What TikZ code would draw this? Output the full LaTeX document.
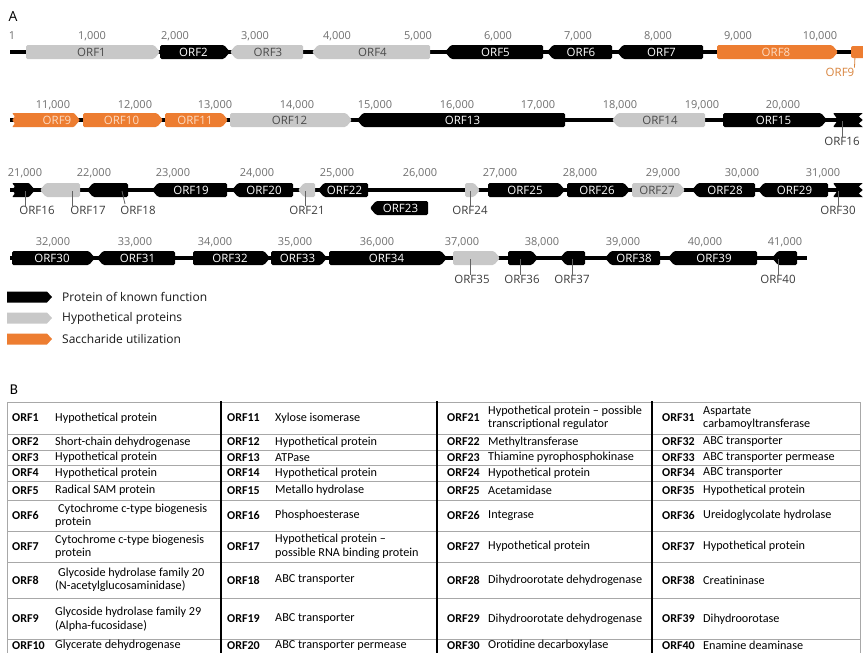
\documentclass[tikz,border=0pt]{standalone}
\usepackage{fontspec}
\setmainfont{Open Sans}
\newfontfamily\tabf{Carlito}
\definecolor{hycol}{HTML}{C8C8C8}
\definecolor{hytx}{HTML}{4A4A4A}
\definecolor{sacol}{HTML}{ED7D31}
\definecolor{satx}{HTML}{FCDCC4}
\definecolor{sclcol}{HTML}{707070}
\definecolor{subcol}{HTML}{3C3C3C}
\definecolor{orlab}{HTML}{D9853F}
\definecolor{tabline}{HTML}{A8A8A8}
\newcommand\genef{\fontsize{11.5}{13}\selectfont}
\newcommand\gR[6]{%
  \fill[#4,rounded corners=1.5pt] (#1,#3-7) -- (#2-6,#3-7) -- (#2,#3) -- (#2-6,#3+7) -- (#1,#3+7) -- cycle;
  \node[#4t] (#5) at ({(#1+#2-3)/2},#3) {#6};}
\newcommand\gL[6]{%
  \fill[#4,rounded corners=1.5pt] (#1,#3) -- (#1+6,#3-7) -- (#2,#3-7) -- (#2,#3+7) -- (#1+6,#3+7) -- cycle;
  \node[#4t] (#5) at ({(#1+#2+3)/2},#3) {#6};}
\newcommand\sR[4]{%
  \fill[#4,rounded corners=1.5pt] (#1,#3-7) -- (#2-6,#3-7) -- (#2,#3) -- (#2-6,#3+7) -- (#1,#3+7) -- cycle;}
\newcommand\sL[4]{%
  \fill[#4,rounded corners=1.5pt] (#1,#3) -- (#1+6,#3-7) -- (#2,#3-7) -- (#2,#3+7) -- (#1+6,#3+7) -- cycle;}
\newcommand\trow[9]{%
  \node[tl] (t#2) at (12,#1) {#2}; \node[td] (d#2) at (55,#1) {#3};
  \node[tl] (t#4) at (227,#1) {#4}; \node[td] (d#4) at (275,#1) {#5};
  \node[tl] (t#6) at (447,#1) {#6}; \node[td] (d#6) at (488,#1) {#7};
  \node[tl] (t#8) at (662,#1) {#8}; \node[td] (d#8) at (703,#1) {#9};}
\begin{document}
\begin{tikzpicture}[x=1pt,y=-1pt,
  kn/.style={fill=black}, hy/.style={fill=hycol}, sa/.style={fill=sacol},
  knt/.style={text=white,font=\genef,inner sep=0pt},
  hyt/.style={text=hytx,font=\genef,inner sep=0pt},
  sat/.style={text=satx,font=\genef,inner sep=0pt},
  bb/.style={line width=4.5pt},
  scl/.style={text=sclcol,font=\fontsize{11}{13}\selectfont,inner sep=0pt},
  sub/.style={text=subcol,font=\genef,inner sep=0pt},
  lead/.style={draw=subcol!80,line width=0.8pt},
  leg/.style={text=black!90,font=\fontsize{12}{14}\selectfont,inner sep=0pt,anchor=west},
  tl/.style={font=\tabf\bfseries\fontsize{12}{13.5}\selectfont,anchor=west,inner sep=0pt},
  td/.style={font=\tabf\fontsize{12.2}{13.5}\selectfont,anchor=west,align=left,inner sep=0pt},
  hl/.style={draw=tabline,line width=1pt},
  vl/.style={draw=black,line width=2.6pt}]
\useasboundingbox (0,0) rectangle (863,653);
\clip (0,0) rectangle (863,653);
\fill[white] (0,0) rectangle (863,653);

\node[font=\fontsize{14}{16}\selectfont,inner sep=0pt] (lA) at (13,16) {A};

% ---------- row 1 ----------
\draw[bb] (10,52) -- (863,52);
\foreach \x/\t [count=\i] in {12/1,92/{1,000},175/{2,000},255/{3,000},337/{4,000},418/{5,000},498/{6,000},578/{7,000},658/{8,000},738/{9,000},820/{10,000}}
  \node[scl] (ra\i) at (\x,36) {\t};
\gR{26}{160}{52}{hy}{g1}{ORF1}
\gR{160}{230}{52}{kn}{g2}{ORF2}
\gL{230}{303}{52}{hy}{g3}{ORF3}
\gL{312}{430}{52}{hy}{g4}{ORF4}
\gL{445}{543}{52}{kn}{g5}{ORF5}
\gL{547}{612}{52}{kn}{g6}{ORF6}
\gL{617}{703}{52}{kn}{g7}{ORF7}
\gR{717}{838}{52}{sa}{g8}{ORF8}
\fill[sa,rounded corners=2pt] (851,46) rectangle (866,58);
\coordinate (c9a) at (855,56);
\node[text=orlab,font=\genef,inner sep=0pt] (l9a) at (840,72) {ORF9};
\draw[draw=orlab,line width=0.8pt] (c9a) -- (l9a.north east);

% ---------- row 2 ----------
\draw[bb] (10,120) -- (863,120);
\foreach \x/\t [count=\i] in {53/{11,000},135/{12,000},215/{13,000},297/{14,000},375/{15,000},457/{16,000},538/{17,000},620/{18,000},702/{19,000},783/{20,000}}
  \node[scl] (rb\i) at (\x,105) {\t};
\fill[sa,rounded corners=1pt] (12,113) -- (74,113) -- (80,120) -- (74,127) -- (12,127) -- (15,123.5) -- (12,120) -- (15,116.5) -- cycle;
\node[sat] (g9) at (57,120) {ORF9};
\gR{83}{163}{120}{sa}{g10}{ORF10}
\gR{165}{228}{120}{sa}{g11}{ORF11}
\gR{230}{352}{120}{hy}{g12}{ORF12}
\gL{357}{565}{120}{kn}{g13}{ORF13}
\gL{612}{705}{120}{hy}{g14}{ORF14}
\gR{723}{827}{120}{kn}{g15}{ORF15}
\fill[kn,rounded corners=1pt] (833,113) -- (866,113) -- (866,127) -- (833,127) -- (838,120) -- cycle;
\fill[white] (863,113) -- (859,116.5) -- (863,120) -- (859,123.5) -- (863,127) -- (866,127) -- (866,113) -- cycle;
\coordinate (c16a) at (842,121);
\node[sub] (l16a) at (842,141) {ORF16};
\draw[lead] (c16a) -- (l16a.north);

% ---------- row 3 ----------
\draw[bb] (10,190) -- (863,190);
\foreach \x/\t [count=\i] in {25/{21,000},94/{22,000},173/{23,000},257/{24,000},337/{25,000},420/{26,000},500/{27,000},580/{28,000},663/{29,000},742/{30,000},823/{31,000}}
  \node[scl] (rc\i) at (\x,173) {\t};
\fill[kn,rounded corners=1pt] (12,183) -- (29,183) -- (35,190) -- (29,197) -- (12,197) -- (15,193.5) -- (12,190) -- (15,186.5) -- cycle;
\sL{40}{80}{190}{hy}
\sL{87}{128}{190}{kn}
\gL{152}{227}{190}{kn}{g19}{ORF19}
\gL{232}{293}{190}{kn}{g20}{ORF20}
\sL{298}{315}{190}{hy}
\gL{318}{368}{190}{kn}{g22}{ORF22}
\gL{370}{428}{208}{kn}{g23}{ORF23}
\sR{465}{480}{190}{hy}
\gR{488}{565}{190}{kn}{g25}{ORF25}
\gR{567}{630}{190}{kn}{g26}{ORF26}
\gR{632}{685}{190}{hy}{g27}{ORF27}
\gL{692}{755}{190}{kn}{g28}{ORF28}
\gL{758}{828}{190}{kn}{g29}{ORF29}
\fill[kn,rounded corners=1pt] (833,183) -- (866,183) -- (866,197) -- (833,197) -- (838,190) -- cycle;
\fill[white] (863,183) -- (859,186.5) -- (863,190) -- (859,193.5) -- (863,197) -- (866,197) -- (866,183) -- cycle;
\coordinate (c16b) at (25,191);
\coordinate (c17) at (72,191);
\coordinate (c18) at (122,191);
\coordinate (c21) at (305,191);
\coordinate (c24) at (470,191);
\coordinate (c30a) at (838,191);
\node[sub] (l16b) at (37,210) {ORF16};
\node[sub] (l17) at (88,210) {ORF17};
\node[sub] (l18) at (138,210) {ORF18};
\node[sub] (l21) at (307,210) {ORF21};
\node[sub] (l24) at (470,210) {ORF24};
\node[sub] (l30a) at (838,210) {ORF30};
\draw[lead] (c16b) -- (l16b.north -| c16b);
\draw[lead] (c17) -- (l17.north -| c17);
\draw[lead] (c18) -- (125,204);
\draw[lead] (c21) -- (l21.north -| c21);
\draw[lead] (c24) -- (l24.north);
\draw[lead] (c30a) -- (l30a.north -| c30a);

% ---------- row 4 ----------
\draw[bb] (10,258) -- (807,258);
\foreach \x/\t [count=\i] in {53/{32,000},135/{33,000},215/{34,000},295/{35,000},377/{36,000},462/{37,000},542/{38,000},623/{39,000},705/{40,000},785/{41,000}}
  \node[scl] (rd\i) at (\x,242) {\t};
\gR{12}{95}{258}{kn}{g30}{ORF30}
\gL{97}{175}{258}{kn}{g31}{ORF31}
\gR{193}{270}{258}{kn}{g32}{ORF32}
\gR{271}{327}{258}{kn}{g33}{ORF33}
\gR{329}{447}{258}{kn}{g34}{ORF34}
\sR{453}{500}{258}{hy}
\sR{508}{538}{258}{kn}
\sL{560}{585}{258}{kn}
\gL{605}{660}{258}{kn}{g38}{ORF38}
\gL{668}{757}{258}{kn}{g39}{ORF39}
\sL{772}{797}{258}{kn}
\coordinate (c35) at (470,259);
\coordinate (c36) at (520,259);
\coordinate (c37) at (572,259);
\coordinate (c40) at (778,259);
\node[sub] (l35) at (472,279) {ORF35};
\node[sub] (l36) at (522,279) {ORF36};
\node[sub] (l37) at (572,279) {ORF37};
\node[sub] (l40) at (778,279) {ORF40};
\draw[lead] (c35) -- (l35.north -| c35);
\draw[lead] (c36) -- (l36.north -| c36);
\draw[lead] (c37) -- (l37.north);
\draw[lead] (c40) -- (l40.north);

% ---------- legend ----------
\fill[kn] (7,291.5) -- (47,291.5) -- (52,297) -- (47,302.5) -- (7,302.5) -- cycle;
\fill[hy] (7,312.5) -- (47,312.5) -- (52,318) -- (47,323.5) -- (7,323.5) -- cycle;
\fill[sa] (7,333.5) -- (47,333.5) -- (52,339) -- (47,344.5) -- (7,344.5) -- cycle;
\node[leg] (lg1) at (62,297) {Protein of known function};
\node[leg] (lg2) at (62,318) {Hypothetical proteins};
\node[leg] (lg3) at (62,339) {Saccharide utilization};

% ---------- table ----------
\node[font=\tabf\fontsize{15}{17}\selectfont,inner sep=0pt] (lB) at (14,390) {B};
\foreach \y in {402,434,450,465,481,500,531,562,598,639}
  \draw[hl] (7,\y) -- (860,\y);
\draw[hl] (7,402) -- (7,660);
\draw[hl] (860,402) -- (860,660);
\foreach \x in {221,437,652}
  \draw[vl] (\x,401) -- (\x,660);
\trow{418}{ORF1}{Hypothetical protein}{ORF11}{Xylose isomerase}{ORF21}{Hypothetical protein – possible\\transcriptional regulator}{ORF31}{Aspartate\\carbamoyltransferase}
\trow{442}{ORF2}{Short-chain dehydrogenase}{ORF12}{Hypothetical protein}{ORF22}{Methyltransferase}{ORF32}{ABC transporter}
\trow{457.5}{ORF3}{Hypothetical protein}{ORF13}{ATPase}{ORF23}{Thiamine pyrophosphokinase}{ORF33}{ABC transporter permease}
\trow{473}{ORF4}{Hypothetical protein}{ORF14}{Hypothetical protein}{ORF24}{Hypothetical protein}{ORF34}{ABC transporter}
\trow{490.5}{ORF5}{Radical SAM protein}{ORF15}{Metallo hydrolase}{ORF25}{Acetamidase}{ORF35}{Hypothetical protein}
\trow{515.5}{ORF6}{\hspace*{3pt}Cytochrome c-type biogenesis\\protein}{ORF16}{Phosphoesterase}{ORF26}{Integrase}{ORF36}{Ureidoglycolate hydrolase}
\trow{546.5}{ORF7}{Cytochrome c-type biogenesis\\protein}{ORF17}{Hypothetical protein –\\possible RNA binding protein}{ORF27}{Hypothetical protein}{ORF37}{Hypothetical protein}
\trow{580}{ORF8}{\hspace*{3pt}Glycoside hydrolase family 20\\(N-acetylglucosaminidase)}{ORF18}{ABC transporter}{ORF28}{Dihydroorotate dehydrogenase}{ORF38}{Creatininase}
\trow{619}{ORF9}{Glycoside hydrolase family 29\\(Alpha-fucosidase)}{ORF19}{ABC transporter}{ORF29}{Dihydroorotate dehydrogenase}{ORF39}{Dihydroorotase}
\trow{645.5}{ORF10}{Glycerate dehydrogenase}{ORF20}{ABC transporter permease}{ORF30}{Orotidine decarboxylase}{ORF40}{Enamine deaminase}
\end{tikzpicture}
\end{document}
